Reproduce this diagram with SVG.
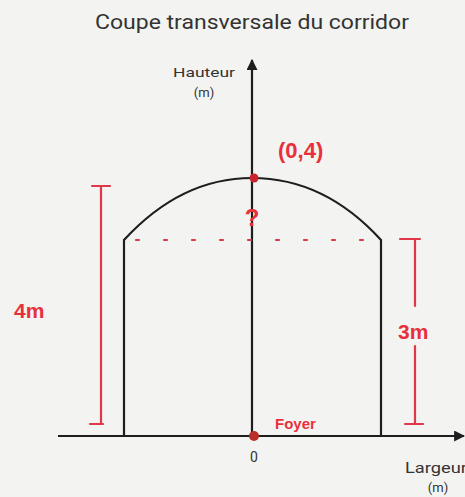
<svg xmlns="http://www.w3.org/2000/svg" width="465" height="497" viewBox="0 0 465 497">
<style>
.ink{stroke:#1e1e1e;stroke-width:2.2;fill:none}
.red{stroke:#e03848;stroke-width:2.2;fill:none;stroke-linecap:round}
.lbl{font-family:Roboto,"Liberation Sans",sans-serif;fill:#333;}
.hand{font-family:"Liberation Sans",sans-serif;font-weight:bold;fill:#e8303c}
</style>
<defs>
<marker id="arr" viewBox="0 0 10 10" refX="9" refY="5" markerWidth="5" markerHeight="5" orient="auto" markerUnits="strokeWidth">
<path d="M0,0 L10,5 L0,10 z" fill="#1e1e1e"/>
</marker>
</defs>
<rect width="465" height="497" fill="#f3f3f1"/>
<text class="lbl" x="252" y="29" font-size="20" text-anchor="middle" textLength="314" lengthAdjust="spacingAndGlyphs">Coupe transversale du corridor</text>
<g id="axes">
<line class="ink" x1="252" y1="436" x2="252" y2="60" marker-end="url(#arr)"/>
<line class="ink" x1="58" y1="436" x2="464" y2="436" marker-end="url(#arr)"/>
<text class="lbl" x="204" y="77" font-size="13" text-anchor="middle" textLength="62" lengthAdjust="spacingAndGlyphs">Hauteur</text>
<text class="lbl" x="204" y="97" font-size="13" text-anchor="middle">(m)</text>
<text class="lbl" x="254" y="462" font-size="14" text-anchor="middle">0</text>
<text class="lbl" x="436" y="473" font-size="14" text-anchor="middle" textLength="62" lengthAdjust="spacingAndGlyphs">Largeur</text>
<text class="lbl" x="438" y="492" font-size="13" text-anchor="middle">(m)</text>
</g>
<g id="corridor">
<path class="ink" d="M124,436 L124,240 C170,190 215,178 252,178 C295,178 340,195 381,240 L381,436"/>
</g>
<g id="annotations">
<line class="red" x1="136" y1="240" x2="381" y2="240" stroke-dasharray="3,25"/>
<line class="red" x1="101" y1="186" x2="101" y2="424"/>
<line class="red" x1="92" y1="186" x2="110" y2="186"/>
<line class="red" x1="90" y1="424" x2="103" y2="424"/>
<line class="red" x1="415" y1="240" x2="415" y2="306"/>
<line class="red" x1="415" y1="346" x2="415" y2="424"/>
<line class="red" x1="400" y1="239" x2="420" y2="239"/>
<line class="red" x1="405" y1="424" x2="423" y2="424"/>
<circle cx="254" cy="178" r="4.5" fill="#c8242c"/>
<circle cx="254" cy="436" r="5" fill="#b83028"/>
<text class="hand" x="278" y="158" font-size="22">(0,4)</text>
<text class="hand" x="252" y="226" font-size="24" text-anchor="middle">?</text>
<text class="hand" x="14" y="318" font-size="21">4m</text>
<text class="hand" x="398" y="339" font-size="21">3m</text>
<text class="hand" x="275" y="429" font-size="15">Foyer</text>
</g>
</svg>
